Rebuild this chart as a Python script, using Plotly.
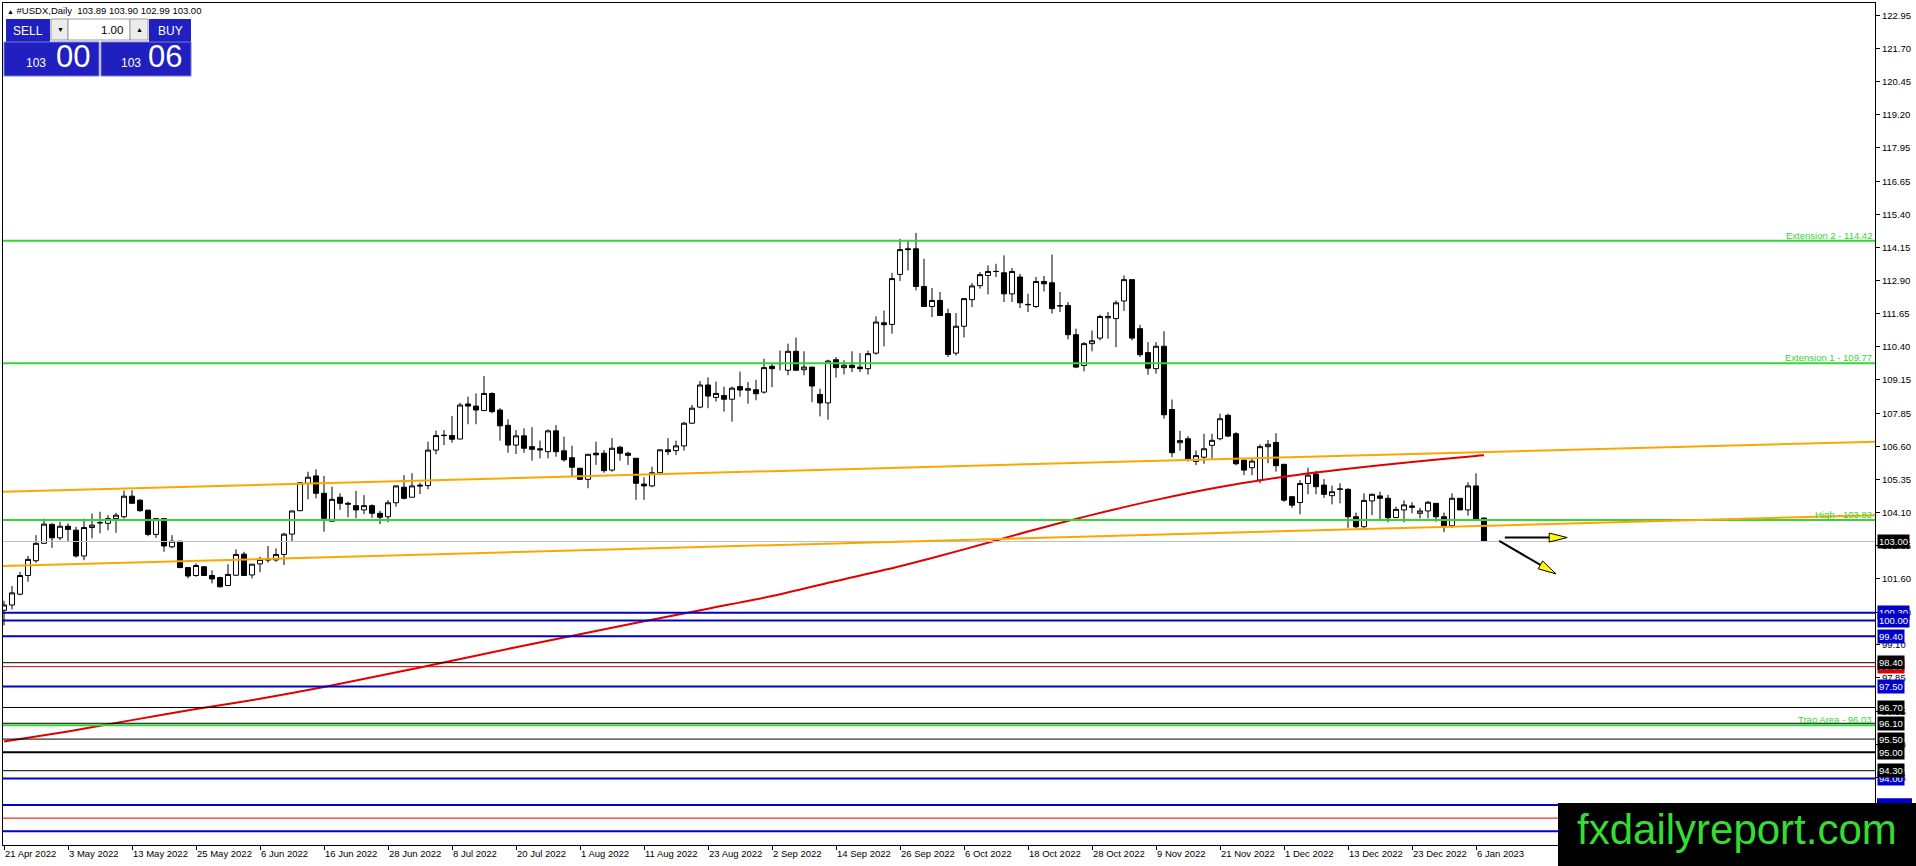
import math
import plotly.graph_objects as go

# #USDX daily candles, 21 Apr 2022 .. 9 Jan 2023
opens = [100.39, 100.59, 101.00, 101.71, 102.27, 102.93, 103.65, 103.14, 103.58, 103.43,
         102.45, 103.53, 103.72, 103.69, 103.87, 103.94, 104.72, 104.57, 104.19, 103.27,
         103.87, 102.80, 103.01, 102.01, 101.71, 102.04, 101.71, 101.63, 101.33, 101.72,
         102.52, 101.73, 102.15, 102.30, 102.30, 102.51, 103.28, 104.17, 105.21, 105.49,
         104.83, 103.77, 104.68, 104.45, 104.36, 104.20, 104.36, 104.07, 103.94, 104.47,
         105.06, 104.68, 105.14, 105.12, 106.47, 107.02, 107.02, 106.89, 108.22, 108.14,
         107.97, 108.62, 107.99, 107.41, 106.66, 107.01, 106.60, 106.52, 106.41, 107.20,
         106.44, 106.18, 105.78, 105.36, 106.35, 106.35, 105.71, 106.58, 106.35, 106.16,
         105.18, 105.11, 105.61, 106.48, 106.45, 106.63, 107.49, 108.10, 108.94, 108.47,
         108.54, 108.40, 108.88, 108.74, 108.76, 108.67, 109.65, 109.75, 109.50, 110.22,
         109.52, 109.62, 108.58, 108.26, 109.90, 109.60, 109.69, 109.62, 109.56, 110.15,
         111.30, 111.24, 113.14, 114.11, 114.11, 112.68, 111.92, 112.15, 111.65, 110.15,
         111.17, 112.18, 112.71, 113.10, 113.25, 113.20, 112.40, 113.04, 112.00, 111.92,
         112.87, 112.82, 111.94, 111.96, 110.85, 109.68, 110.51, 110.72, 111.49, 111.46,
         112.13, 112.94, 111.08, 110.17, 109.56, 110.41, 108.01, 106.75, 106.90, 106.04,
         106.20, 106.65, 106.90, 107.79, 107.09, 106.09, 105.80, 105.33, 106.60, 106.76,
         105.93, 104.70, 104.48, 105.20, 105.56, 105.14, 104.74, 104.98, 104.98, 103.94,
         103.56, 104.54, 104.73, 104.64, 103.91, 104.20, 104.35, 104.07, 104.16, 104.45,
         103.94, 103.60, 104.64, 104.20, 105.11, 103.89]
highs = [100.75, 101.31, 101.85, 102.45, 103.24, 103.87, 103.69, 103.75, 103.69, 103.56,
         103.87, 104.06, 104.13, 104.00, 104.09, 104.93, 104.95, 104.60, 104.19, 103.87,
         103.87, 103.24, 103.01, 102.01, 102.17, 102.07, 101.91, 101.66, 102.14, 102.70,
         102.61, 102.14, 102.42, 102.83, 102.74, 103.33, 104.16, 105.25, 105.65, 105.74,
         105.49, 105.08, 104.83, 104.51, 104.92, 104.76, 104.41, 104.17, 104.57, 105.11,
         105.52, 105.59, 105.23, 106.79, 107.21, 107.23, 107.76, 108.27, 108.50, 108.62,
         109.28, 108.66, 108.06, 107.64, 107.23, 107.30, 107.34, 106.83, 107.26, 107.42,
         106.98, 106.63, 105.78, 106.31, 106.79, 106.47, 106.92, 106.63, 106.41, 106.16,
         105.44, 105.84, 106.50, 106.92, 106.83, 107.54, 108.18, 109.09, 109.23, 109.07,
         108.88, 108.88, 109.45, 109.05, 109.14, 109.94, 109.75, 110.25, 110.51, 110.74,
         110.22, 109.62, 108.80, 109.90, 110.00, 109.88, 110.22, 110.15, 110.25, 111.55,
         111.77, 113.20, 114.49, 114.40, 114.71, 113.73, 112.62, 112.47, 111.84, 111.67,
         112.22, 112.81, 113.23, 113.48, 113.54, 113.86, 113.38, 113.16, 112.40, 113.04,
         113.08, 113.89, 112.47, 112.09, 111.08, 110.57, 111.01, 111.61, 111.71, 112.15,
         113.10, 112.94, 111.23, 110.57, 110.57, 110.98, 108.39, 107.20, 107.00, 106.46,
         107.09, 107.09, 107.85, 107.85, 107.15, 106.09, 106.16, 106.69, 106.85, 107.11,
         105.93, 104.70, 105.33, 105.80, 105.68, 105.37, 105.12, 105.21, 105.02, 104.10,
         104.83, 104.82, 104.89, 104.77, 104.32, 104.56, 104.49, 104.28, 104.54, 104.45,
         104.10, 104.83, 104.64, 105.25, 105.59, 103.90]
lows = [99.82, 100.42, 100.96, 101.47, 102.19, 102.93, 102.76, 103.05, 102.99, 102.39,
        102.29, 103.12, 103.31, 103.43, 103.33, 103.87, 104.45, 104.13, 103.20, 103.14,
        102.61, 102.74, 101.99, 101.60, 101.66, 101.69, 101.41, 101.26, 101.33, 101.69,
        101.69, 101.60, 101.83, 102.20, 102.23, 102.11, 102.99, 104.15, 104.60, 104.64,
        103.37, 103.77, 104.20, 103.92, 103.88, 104.04, 103.90, 103.66, 103.73, 104.32,
        104.60, 104.68, 104.80, 104.98, 106.31, 106.66, 106.75, 106.89, 107.45, 107.45,
        107.97, 107.87, 106.83, 106.37, 106.32, 106.37, 106.07, 106.16, 106.16, 106.22,
        106.03, 105.46, 105.34, 105.02, 105.91, 105.61, 105.65, 106.07, 105.91, 104.58,
        104.58, 105.06, 105.56, 106.28, 106.28, 106.45, 107.46, 108.06, 108.06, 108.31,
        107.93, 107.55, 108.50, 108.23, 108.36, 108.61, 108.86, 109.50, 109.31, 109.50,
        109.31, 108.29, 107.75, 107.62, 109.22, 109.34, 109.43, 109.43, 109.34, 110.09,
        110.41, 110.89, 112.89, 113.29, 112.53, 111.92, 111.52, 111.58, 110.00, 110.06,
        110.74, 111.90, 112.60, 112.38, 113.04, 112.09, 112.09, 111.86, 111.71, 111.86,
        112.49, 111.65, 111.71, 110.67, 109.58, 109.46, 110.22, 110.63, 110.70, 110.38,
        111.75, 110.63, 110.00, 109.33, 109.37, 107.66, 106.20, 106.45, 106.04, 105.90,
        105.95, 106.14, 106.84, 106.96, 105.89, 105.52, 105.52, 105.21, 105.97, 105.65,
        104.51, 104.28, 104.03, 104.79, 104.79, 104.66, 104.41, 104.45, 103.52, 103.50,
        103.52, 104.00, 103.85, 103.73, 103.88, 103.73, 104.07, 103.88, 103.88, 103.75,
        103.35, 103.52, 104.20, 103.98, 103.85, 102.99]
closes = [100.59, 101.05, 101.71, 102.32, 102.93, 103.66, 103.14, 103.58, 103.46, 102.45,
          103.53, 103.62, 103.71, 103.87, 104.00, 104.72, 104.45, 104.17, 103.27, 103.87,
          102.83, 103.01, 102.01, 101.69, 102.09, 101.71, 101.58, 101.28, 101.75, 102.51,
          101.71, 102.14, 102.32, 102.31, 102.51, 103.28, 104.16, 105.23, 105.44, 104.83,
          103.88, 104.60, 104.45, 104.42, 104.20, 104.36, 104.07, 103.92, 104.47, 105.11,
          104.64, 105.11, 105.11, 106.47, 107.02, 107.03, 106.88, 108.18, 108.14, 107.99,
          108.62, 107.93, 107.39, 106.66, 107.01, 106.54, 106.50, 106.48, 107.20, 106.41,
          106.10, 105.82, 105.36, 106.31, 106.29, 105.69, 106.54, 106.35, 106.27, 105.21,
          105.11, 105.61, 106.48, 106.41, 106.63, 107.49, 108.06, 108.94, 108.52, 108.62,
          108.40, 108.82, 108.75, 108.80, 108.61, 109.60, 109.56, 109.76, 110.22, 109.50,
          109.62, 108.90, 108.26, 109.85, 109.60, 109.69, 109.60, 109.56, 110.13, 111.33,
          111.23, 112.98, 114.08, 114.08, 112.68, 111.92, 112.15, 111.58, 110.10, 111.17,
          112.22, 112.70, 113.13, 113.25, 113.25, 112.40, 113.25, 112.06, 111.99, 112.87,
          112.78, 111.84, 111.95, 110.85, 109.62, 110.51, 110.62, 111.54, 111.54, 112.06,
          112.94, 110.72, 110.09, 109.58, 110.41, 107.81, 106.37, 106.83, 106.14, 106.26,
          106.52, 106.84, 107.66, 107.00, 105.95, 105.71, 106.05, 106.60, 106.69, 105.88,
          104.57, 104.38, 105.20, 105.52, 105.08, 104.79, 104.89, 104.99, 103.94, 103.56,
          104.56, 104.79, 104.64, 103.90, 104.22, 104.39, 104.30, 104.16, 104.49, 103.94,
          103.60, 104.64, 104.20, 105.11, 103.85, 103.00]

# one label every 8 bars
date_labels = ["21 Apr 2022", "3 May 2022", "13 May 2022", "25 May 2022", "6 Jun 2022",
               "16 Jun 2022", "28 Jun 2022", "8 Jul 2022", "20 Jul 2022", "1 Aug 2022",
               "11 Aug 2022", "23 Aug 2022", "2 Sep 2022", "14 Sep 2022", "26 Sep 2022",
               "6 Oct 2022", "18 Oct 2022", "28 Oct 2022", "9 Nov 2022", "21 Nov 2022",
               "1 Dec 2022", "13 Dec 2022", "23 Dec 2022", "6 Jan 2023"]
label_step = 8

price_ticks = [122.95, 121.70, 120.45, 119.20, 117.95, 116.65, 115.40, 114.15, 112.90,
               111.65, 110.40, 109.15, 107.85, 106.60, 105.35, 104.10, 102.85, 101.60,
               100.30, 99.10, 97.85, 96.55, 95.30, 94.05]

# red moving average, read at every labelled bar plus the last one
ma_bars = [0, 8, 16, 24, 32, 40, 48, 56, 64, 72, 80, 88, 96, 104, 112, 120, 128, 136,
           144, 152, 160, 168, 176, 184, 185]
ma_values = [95.41, 95.79, 96.22, 96.64, 97.03, 97.48, 97.97, 98.47, 98.99, 99.48, 99.97,
             100.45, 100.93, 101.50, 102.06, 102.70, 103.38, 104.01, 104.58, 105.07,
             105.46, 105.76, 106.02, 106.25, 106.27]

# horizontal levels
blue_levels = [100.30, 100.00, 99.40, 97.50, 94.00, 93.00, 92.00]
red_levels = [98.25, 92.50]
black_levels = [98.40, 96.70, 96.10, 95.50, 95.00, 94.30]
thick_black = [95.00]
green_names = ["Extension 2", "Extension 1", "High", "Trap Area"]
green_levels = [114.42, 109.77, 103.82, 96.03]

# orange channel, price at left and right edge of the chart
orange_upper = [104.89, 106.79]
orange_lower = [102.07, 104.00]

bid, ask, lot = 103.00, 103.06, 1.00

# arrows drawn after the last bar: (bar, price) tail and tip
arrow_flat = [(187.6, 103.15), (195.4, 103.15)]
arrow_down = [(186.9, 103.02), (194.0, 101.77)]

FONT = "Liberation Sans"
W, H = 1916, 866
PL, PR, PT, PB = 3, 1875, 3, 845           # plot area in pixels
X_RANGE = [-0.125, 233.875]
Y_RANGE = [91.48, 123.44]
PX_BAR = (PR - PL) / (X_RANGE[1] - X_RANGE[0])
PX_PT = (PB - PT) / (Y_RANGE[1] - Y_RANGE[0])

GREEN = "#33d633"
BLUE = "#0000cd"
PANEL = "#2020c0"


def px_x(px):
    return (px - PL) / (PR - PL)


def px_y(py):
    return (PB - py) / (PB - PT)


def rect(x0, y0, x1, y1, fill, line=None, lw=1):
    return dict(type="rect", xref="paper", yref="paper",
                x0=px_x(x0), x1=px_x(x1), y0=px_y(y1), y1=px_y(y0),
                fillcolor=fill, line=dict(color=line or fill, width=lw if line else 0))


def hline(y, color, width):
    return dict(type="line", xref="paper", x0=0, x1=1, yref="y", y0=y, y1=y,
                line=dict(color=color, width=width))


def arrow_shapes(tail, tip, length=18, half=4.5):
    dx = (tip[0] - tail[0]) * PX_BAR
    dy = -(tip[1] - tail[1]) * PX_PT
    n = math.hypot(dx, dy)
    ux, uy = dx / n, dy / n
    bx, by = -ux * length, -uy * length
    nx, ny = -uy, ux
    pts = [(0, 0), (bx + nx * half, by + ny * half), (bx - nx * half, by - ny * half)]
    path = "M " + " L ".join(f"{tip[0] + ox / PX_BAR},{tip[1] - oy / PX_PT}" for ox, oy in pts) + " Z"
    shaft = dict(type="line", xref="x", yref="y", x0=tail[0], y0=tail[1],
                 x1=tip[0] + bx / PX_BAR, y1=tip[1] - by / PX_PT,
                 line=dict(color="black", width=2))
    head = dict(type="path", xref="x", yref="y", path=path,
                fillcolor="#ffff00", line=dict(color="black", width=1))
    return [shaft, head]


bars = list(range(len(closes)))

fig = go.Figure()
fig.add_trace(go.Candlestick(
    x=bars, open=opens, high=highs, low=lows, close=closes,
    increasing=dict(line=dict(color="black", width=1), fillcolor="white"),
    decreasing=dict(line=dict(color="black", width=1), fillcolor="black"),
    whiskerwidth=0, hoverinfo="skip", showlegend=False))
fig.add_trace(go.Scatter(x=ma_bars, y=ma_values, mode="lines",
                         line=dict(color="#e00000", width=2, shape="spline", smoothing=0.6),
                         hoverinfo="skip", showlegend=False))

shapes = []
shapes.append(hline(bid, "#c0c0c0", 1))
for v in red_levels:
    shapes.append(hline(v, "#e00000", 1))
for v in black_levels:
    shapes.append(hline(v, "black", 2 if v in thick_black else 1))
for v in blue_levels:
    shapes.append(hline(v, BLUE, 2))
for v in green_levels:
    shapes.append(hline(v, GREEN, 2))
for left, right in (orange_upper, orange_lower):
    shapes.append(dict(type="line", xref="paper", x0=0, x1=1, yref="y", y0=left, y1=right,
                       line=dict(color="#ffa500", width=2)))
shapes += arrow_shapes(*arrow_flat)
shapes += arrow_shapes(*arrow_down)

# one-click trading panel
shapes.append(rect(6, 19, 50, 42, PANEL))
shapes.append(rect(149, 19, 191, 42, PANEL))
shapes.append(rect(51, 19, 68, 40, "#ececec", "#9a9a9a"))
shapes.append(rect(68, 19, 130, 40, "white", "#9a9a9a"))
shapes.append(rect(130, 19, 148, 40, "#ececec", "#9a9a9a"))
shapes.append(rect(4, 42, 99, 76, PANEL, "#7777e0"))
shapes.append(rect(101, 42, 191, 76, PANEL, "#7777e0"))

annotations = []
tiny = dict(family=FONT, size=9.5, color="black")


def text_px(x, y, text, size=9.5, color="black", xanchor="left", yanchor="middle"):
    annotations.append(dict(xref="paper", yref="paper", x=px_x(x), y=px_y(y), text=text,
                            showarrow=False, xanchor=xanchor, yanchor=yanchor,
                            font=dict(family=FONT, size=size, color=color)))


text_px(5, 10, "<span style='font-size:7px'>▲</span> #USDX,Daily  "
        + " ".join(f"{v:.2f}" for v in (opens[-1], highs[-1], lows[-1], closes[-1])))
text_px(28, 31, "SELL", size=12, color="white", xanchor="center")
text_px(170, 31, "BUY", size=12, color="white", xanchor="center")
text_px(60, 30, "▼", size=7, xanchor="center")
text_px(139, 30, "▲", size=7, xanchor="center")
text_px(125, 30, f"{lot:.2f}", size=11.5, xanchor="right")
for big_x, small_x, price in ((54, 48, bid), (146, 143, ask)):
    whole, frac = f"{price:.2f}".split(".")
    text_px(small_x, 63, whole, size=12, color="white", xanchor="right")
    text_px(big_x, 57, frac, size=31, color="white")


def tag(v, bg):
    annotations.append(dict(xref="paper", x=1, xanchor="left", xshift=2, yref="y", y=v,
                            yanchor="middle", text=f"{v:.2f}", showarrow=False,
                            bgcolor=bg, borderpad=1,
                            font=dict(family=FONT, size=9.5, color="white")))


# level tags on the price scale (the lowest ones sit under the watermark)
for v in blue_levels:
    if v >= Y_RANGE[0] + 2:
        tag(v, BLUE)
for v in red_levels:
    if v >= Y_RANGE[0] + 2:
        tag(v, "#e00000")
for v in black_levels + [bid]:
    tag(v, "black")
for name, v in zip(green_names, green_levels):
    annotations.append(dict(xref="paper", x=1, xanchor="right", xshift=-1, yref="y", y=v,
                            yanchor="bottom", yshift=-2, text=f"{name} - {v:.2f}",
                            showarrow=False, font=dict(family=FONT, size=9.5, color=GREEN)))

# a sliver of the 93.00 tag shows above the watermark
shapes.append(dict(type="rect", xref="paper", x0=px_x(1877), x1=px_x(1912), yref="y",
                   y0=blue_levels[5] - 0.25, y1=blue_levels[5] + 0.25,
                   fillcolor=BLUE, line=dict(width=0)))

# watermark
shapes.append(rect(1558, 803, W + 2, H + 2, "black"))
text_px(1737, 829, "fxdailyreport.com", size=42, color="#35dc35", xanchor="center")

fig.update_layout(
    width=W, height=H,
    margin=dict(l=PL, r=W - PR, t=PT, b=H - PB, autoexpand=False),
    paper_bgcolor="white", plot_bgcolor="white",
    font=tiny, showlegend=False,
    boxgap=0.3, boxgroupgap=0.1,
    shapes=shapes, annotations=annotations,
    xaxis=dict(range=X_RANGE, rangeslider=dict(visible=False),
               tickvals=[label_step * k for k in range(len(date_labels))],
               ticktext=date_labels, ticks="outside", ticklen=4, tickcolor="black",
               ticklabelposition="outside right", automargin=False,
               showgrid=False, zeroline=False, showline=True, linecolor="black",
               linewidth=1, mirror=True, tickfont=tiny),
    yaxis=dict(range=Y_RANGE, side="right", tickvals=price_ticks,
               ticktext=[f"{v:.2f}" for v in price_ticks], automargin=False,
               ticks="outside", ticklen=4, tickcolor="black",
               showgrid=False, zeroline=False, showline=True, linecolor="black",
               linewidth=1, mirror=True, tickfont=tiny),
)

# the page's default body margin would shift the chart by 8px
fig.write_html("out.html", config={"displayModeBar": False},
               post_script="document.body.style.margin='0';"
                           "document.body.style.overflow='hidden';")
